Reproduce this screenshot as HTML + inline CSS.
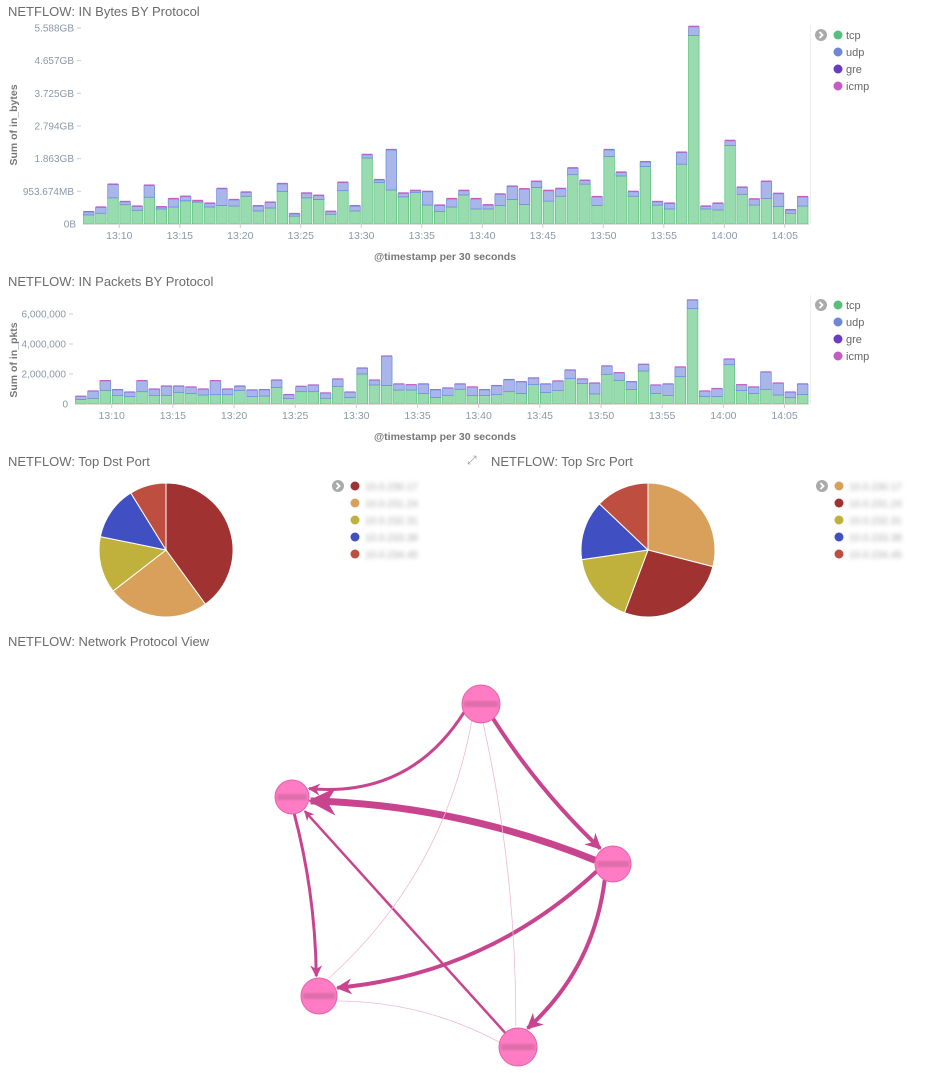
<!DOCTYPE html>
<html><head><meta charset="utf-8">
<style>
body{margin:0;background:#fff;font-family:"Liberation Sans",sans-serif;}
#root{position:relative;width:946px;height:1080px;overflow:hidden;}
.t{position:absolute;font-size:13px;color:#6b6b6b;white-space:nowrap;}
svg{position:absolute;left:0;top:0;}
</style></head><body>
<div id="root">
<div class="t" style="left:8px;top:4px">NETFLOW: IN Bytes BY Protocol</div>
<div class="t" style="left:8px;top:274px">NETFLOW: IN Packets BY Protocol</div>
<div class="t" style="left:8px;top:454px">NETFLOW: Top Dst Port</div>
<div class="t" style="left:491px;top:454px">NETFLOW: Top Src Port</div>
<div class="t" style="left:467px;top:453px;color:#999;font-size:12px">⤢</div>
<div class="t" style="left:8px;top:634px">NETFLOW: Network Protocol View</div>
<svg id="svg" width="946" height="1080"></svg>
</div>
<script>
const times=["13:10","13:15","13:20","13:25","13:30","13:35","13:40","13:45","13:50","13:55","14:00","14:05"];
const timeIdx=[3,8,13,18,23,28,33,38,43,48,53,58];
const bytesTotal=[0.40,0.54,1.24,0.71,0.57,1.21,0.55,0.80,0.87,0.74,0.66,1.11,0.77,1.0,0.58,0.69,1.26,0.34,0.97,0.90,0.41,1.30,0.58,2.15,1.38,2.30,0.97,1.05,1.02,0.60,0.80,1.05,0.80,0.61,0.94,1.18,1.10,1.33,1.05,1.11,1.74,1.36,0.86,2.30,1.61,1.02,1.93,0.71,0.66,2.22,6.07,0.57,0.66,2.58,1.15,0.79,1.33,0.96,0.46,0.86];
const bytesTcp=[0.28,0.33,0.80,0.59,0.42,0.82,0.46,0.52,0.71,0.67,0.52,0.57,0.55,0.85,0.40,0.49,0.99,0.24,0.80,0.75,0.30,1.02,0.40,2.02,1.27,1.04,0.83,0.96,0.58,0.38,0.52,0.89,0.46,0.46,0.57,0.75,0.60,1.12,0.70,0.85,1.51,1.22,0.57,2.07,1.47,0.85,1.76,0.58,0.46,1.83,5.77,0.46,0.43,2.40,0.91,0.58,0.78,0.54,0.33,0.55];
const bytesTicks=["0B","953.674MB","1.863GB","2.794GB","3.725GB","4.657GB","5.588GB"];
const pktTotal=[0.56,0.91,1.6,1.0,0.84,1.6,1.04,1.24,1.24,1.18,1.04,1.6,1.04,1.24,0.98,1.0,1.64,0.67,1.22,1.31,0.78,1.71,0.84,2.44,1.64,3.24,1.38,1.33,1.38,1.0,1.11,1.38,1.18,1.0,1.27,1.67,1.53,1.78,1.38,1.58,2.31,1.71,1.44,2.58,2.13,1.53,2.69,1.31,1.38,2.51,6.98,0.91,1.07,3.04,1.33,1.18,2.18,1.44,0.84,1.38];
const pktTcp=[0.31,0.38,0.91,0.58,0.49,0.82,0.58,0.58,0.78,0.71,0.6,0.62,0.62,0.89,0.49,0.53,1.11,0.36,0.82,0.82,0.38,1.16,0.44,2.0,1.27,1.24,0.93,0.93,0.71,0.44,0.58,0.98,0.56,0.56,0.62,0.82,0.71,1.29,0.76,0.89,1.69,1.36,0.67,1.98,1.58,0.96,2.2,0.71,0.56,1.82,6.36,0.51,0.51,2.62,0.89,0.71,0.98,0.6,0.42,0.64];
const pktTicks=["0","2,000,000","4,000,000","6,000,000"];
const protocols=["tcp","udp","gre","icmp"];
const dstShares=[40,24.5,13.7,13,8.8];
const srcShares=[29,26.7,17,14.4,12.9];
const edges=[[0,1,3,-0.25],[0,2,4,0.05],[2,1,7,0.08],[2,3,4,-0.15],[2,4,4,-0.15],[1,3,3,-0.05],[4,1,2.5,0],[0,4,0.6,-0.05],[0,3,0.6,-0.15],[4,3,0.6,0.1]];
const nodes=[[481,704,19],[292,797,17],[613,864,18],[319,996,18],[518,1047,19]];

const NS="http://www.w3.org/2000/svg";
const svg=document.getElementById('svg');
function mk(tag,attrs,parent){const e=document.createElementNS(NS,tag);for(const k in attrs)e.setAttribute(k,attrs[k]);(parent||svg).appendChild(e);return e;}
const protoColors={tcp:["#98dbaf","#57c17b"],udp:["#a9b6ea","#6f87d8"],gre:"#6a3cbf",icmp:"#c45cc4"};

function barChart(o){
  const g=mk('g',{});
  
  
  const n=o.total.length, bw=(o.x1-o.x0)/n;
  const xs=i=>o.x0+i*bw;
  const ys=v=>o.y0-v*o.unit;
  o.ticks.forEach((t,i)=>{
    const y=o.y0-i*o.tickStep*o.unit;
    const tx=mk('text',{x:o.x0-(i>0?9:7),y:y+3.5,'text-anchor':'end','font-size':'10',fill:'#8b98a8'},g);tx.textContent=t;
    
    
    if(i>0)mk('line',{x1:o.x0-6,x2:o.x0-2,y1:y,y2:y,stroke:'#ccc'},g);
  });
  for(let i=0;i<n;i++){
    const x=xs(i)+0.5,w=bw-1.5;
    const tcp=o.tcp[i],tot=o.total[i],other=o.other;
    const udp=Math.max(tot-tcp-other,0);
    const r1=mk('rect',{x:x,y:ys(tcp),width:w,height:tcp*o.unit,fill:protoColors.tcp[0],stroke:protoColors.tcp[1],'stroke-width':0.7},g);
    
    
    const r2=mk('rect',{x:x,y:ys(tcp+udp),width:w,height:udp*o.unit,fill:protoColors.udp[0],stroke:protoColors.udp[1],'stroke-width':0.7},g);
    
    
    const r3=mk('rect',{x:x,y:ys(tcp+udp+other),width:w,height:other*o.unit,fill:protoColors.icmp},g);
    
    
  }
  mk('line',{x1:o.x0,x2:o.x1,y1:o.y0+0.5,y2:o.y0+0.5,stroke:'#ddd'},g);
  times.forEach((t,k)=>{
    const x=xs(timeIdx[k]);
    mk('line',{x1:x,x2:x,y1:o.y0,y2:o.y0+4,stroke:'#ccc'},g);
    const tx=mk('text',{x:x,y:o.y0+15,'text-anchor':'middle','font-size':'10.5',fill:'#8b98a8'},g);tx.textContent=t;
    
    
  });
  const xt=mk('text',{x:445,y:o.y0+36,'text-anchor':'middle','font-size':'10.5','font-weight':'bold',fill:'#777'},g);xt.textContent='@timestamp per 30 seconds';
  
  
  const yt=mk('text',{x:0,y:0,'text-anchor':'middle','font-size':'10.5','font-weight':'bold',fill:'#777',transform:`translate(17,${o.ytY}) rotate(-90)`},g);yt.textContent=o.ytitle;
  
  
  mk('line',{x1:810.5,x2:810.5,y1:o.legY-10,y2:o.y0,stroke:'#eee'},g);
  legendIcon(g,821,o.legY);
  protocols.forEach((p,k)=>{
    const c=p==='tcp'?'#54c07a':p==='udp'?'#6f87d8':protoColors[p];
    const cc=mk('circle',{cx:838,cy:o.legY+k*17,r:4.5,fill:c},g);
    
    
    const tx=mk('text',{x:846,y:o.legY+k*17+4,'font-size':'11',fill:'#666'},g);tx.textContent=p;
    
    
  });
}
function legendIcon(g,x,y){
  const c=mk('circle',{cx:x,cy:y,r:6,fill:'#aaa'},g);
  
  
  mk('path',{d:`M${x-1.5},${y-3} L${x+1.5},${y} L${x-1.5},${y+3}`,stroke:'#fff','stroke-width':1.8,fill:'none'},g);
}
barChart({name:'bytes-chart',total:bytesTotal,tcp:bytesTcp,other:0.035,x0:83,x1:809,y0:224,unit:32.67,tickStep:1,ticks:bytesTicks,ytitle:'Sum of in_bytes',ytY:125,legY:35});
barChart({name:'packets-chart',total:pktTotal,tcp:pktTcp,other:0.06,x0:75,x1:809,y0:404,unit:15,tickStep:2,ticks:pktTicks,ytitle:'Sum of in_pkts',ytY:360,legY:305});

const pieColorsDst=["#a03232","#d9a05c","#c0b03c","#4050c2","#bd4e40"];
const pieColorsSrc=["#d9a05c","#a03232","#c0b03c","#4050c2","#bd4e40"];
function pie(name,cx,cy,r,shares,colors,lx){
  const g=mk('g',{});
  
  
  const tot=shares.reduce((a,b)=>a+b,0);let a=0;
  shares.forEach((s,i)=>{
    const a0=a/tot*2*Math.PI;a+=s;const a1=a/tot*2*Math.PI;
    const p=(t)=>[cx+r*Math.sin(t),cy-r*Math.cos(t)];
    const [x0,y0]=p(a0),[x1,y1]=p(a1);
    const sl=mk('path',{d:`M${cx},${cy}L${x0},${y0}A${r},${r} 0 ${a1-a0>Math.PI?1:0} 1 ${x1},${y1}Z`,fill:colors[i],stroke:'#fff','stroke-width':1},g);
    
    
  });
  legendIcon(g,lx,486);
  colors.forEach((c,k)=>{
    const cc=mk('circle',{cx:lx+17,cy:486+k*17,r:4.5,fill:c},g);
    
    
    const tx=mk('text',{x:lx+27,y:490+k*17,'font-size':'10',fill:'#aaa',style:'filter:blur(2px)'},g);tx.textContent='10.0.'+(230+k)+'.'+(17+k*7);
    
    
  });
}
pie('dst-port-pie',166,550,67,dstShares,pieColorsDst,338);
pie('src-port-pie',648,550,67,srcShares,pieColorsSrc,822);

const defs=mk('defs',{});
const mkr=mk('marker',{id:'arr',viewBox:'0 0 10 10',refX:9,refY:5,markerWidth:4,markerHeight:4,orient:'auto',markerUnits:'strokeWidth'},defs);
mk('path',{d:'M0,0L10,5L0,10L3,5Z',fill:'#c9448e'},mkr);
const ng=mk('g',{});


edges.forEach(e=>{
  const [s,t,w,c]=e;const A=nodes[s],B=nodes[t];
  const dx=B[0]-A[0],dy=B[1]-A[1],L=Math.hypot(dx,dy);
  const ux=dx/L,uy=dy/L;
  const sx=A[0]+ux*A[2],sy=A[1]+uy*A[2],ex=B[0]-ux*(B[2]+2),ey=B[1]-uy*(B[2]+2);
  const mx=(sx+ex)/2-uy*c*L,my=(sy+ey)/2+ux*c*L;
  const thin=w<1;
  const pth=mk('path',{d:`M${sx},${sy}Q${mx},${my} ${ex},${ey}`,stroke:thin?'#f0b8d6':'#c9448e','stroke-width':Math.max(w,0.8),fill:'none','marker-end':thin?'':'url(#arr)'},ng);
  
  
});
nodes.forEach(n=>{
  const c=mk('circle',{cx:n[0],cy:n[1],r:n[2],fill:'#ff7cc4',stroke:'#e562a6','stroke-width':1},ng);
  
  
  const r=mk('rect',{x:n[0]-n[2]+2,y:n[1]-3,width:2*n[2]-4,height:6,fill:'#d66aa3',opacity:0.8,style:'filter:blur(1px)'},ng);
  
  
});
</script>
</body></html>
